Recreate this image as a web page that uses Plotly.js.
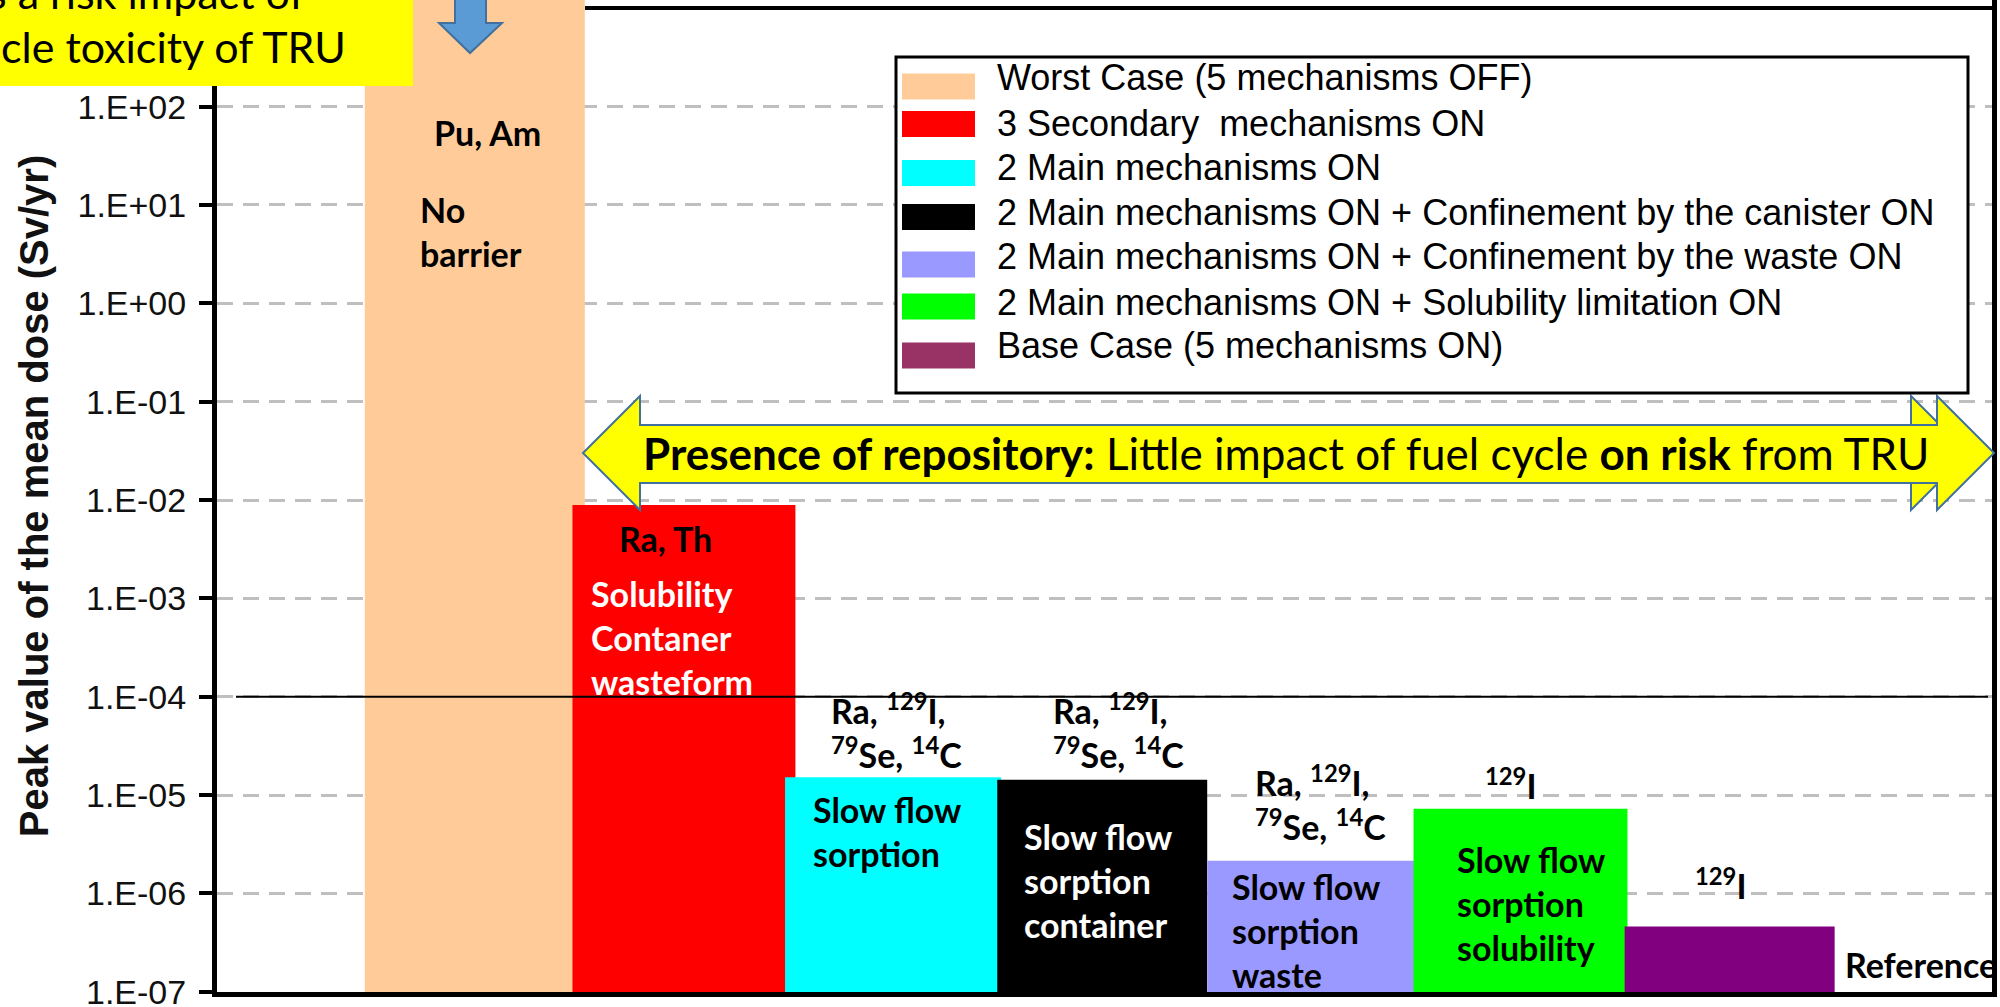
<!DOCTYPE html>
<html>
<head>
<meta charset="utf-8">
<script src="https://cdn.plot.ly/plotly-3.0.1.min.js"></script>
<style>
html, body { margin: 0; padding: 0; background: #ffffff; }
#chart { width: 2000px; height: 1007px; }
</style>
</head>
<body>
<div id="chart"></div>
<script>
// ---------------- data ----------------
const scenarios = [
  "Worst Case (5 mechanisms OFF)",
  "3 Secondary\u00A0 mechanisms ON",
  "2 Main mechanisms ON",
  "2 Main mechanisms ON + Confinement by the canister ON",
  "2 Main mechanisms ON + Confinement by the waste ON",
  "2 Main mechanisms ON + Solubility limitation ON",
  "Base Case (5 mechanisms ON)"
];
const peakDose = [2.0e3, 8.9e-3, 1.52e-5, 1.43e-5, 2.15e-6, 7.24e-6, 4.6e-7];
const tickValues = [1e-7, 1e-6, 1e-5, 1e-4, 1e-3, 1e-2, 1e-1, 1e0, 1e1, 1e2];
const tickLabels = ["1.E-07", "1.E-06", "1.E-05", "1.E-04", "1.E-03", "1.E-02", "1.E-01", "1.E+00", "1.E+01", "1.E+02"];
const doseLimit = 1e-4;
const yAxisTitle = "Peak value of the mean dose (Sv/yr)";
const nuclidesAbove = ["", "", "Ra, <sup>129</sup>I,<br><sup>79</sup>Se, <sup>14</sup>C", "Ra, <sup>129</sup>I,<br><sup>79</sup>Se, <sup>14</sup>C", "Ra, <sup>129</sup>I,<br><sup>79</sup>Se, <sup>14</sup>C", "<sup>129</sup>I", "<sup>129</sup>I"];
const barNotes = ["No<br>barrier", "Solubility<br>Contaner<br>wasteform", "Slow flow<br>sorption", "Slow flow<br>sorption<br>container", "Slow flow<br>sorption<br>waste", "Slow flow<br>sorption<br>solubility", ""];
const topNuclides = ["Pu, Am", "Ra, Th"];
const referenceLabel = "Reference";
const boxLines = ["s a risk impact of", "cle toxicity of TRU"];
const arrowText = "<b>Presence of repository:</b> Little impact of fuel cycle <b>on risk</b> from TRU";

// ---------------- styles ----------------
const barColors = ["#FFCC99", "#FF0000", "#00FFFF", "#000000", "#9999FF", "#00FF00", "#800080"];
const swatchColors = ["#FFCC99", "#FF0000", "#00FFFF", "#000000", "#9999FF", "#00FF00", "#993366"];
const barWidths = [1.052, 1.066, 1.033, 1.004, 0.995, 1.023, 1.004];
const noteColors = ["#000", "#fff", "#000", "#fff", "#000", "#000", "#000"];
// legend layout (pixels)
const legendTextY = [78, 123, 168, 212, 257, 302, 345];
const legendSwatchY = [86.5, 124, 173, 217, 264.5, 306.5, 355.5];

// pixel -> paper helpers (plot area 217..1992 x 0..992)
const PL = 217, PR = 1992, PT = 0, PB = 992;
const px = v => (v - PL) / (PR - PL);
const py = v => (PB - v) / (PB - PT);

const ANN_FONT = "Lato, 'Open Sans', sans-serif";
const AX_FONT = "'Liberation Sans', Arial, sans-serif";

const traces = scenarios.map((name, i) => ({
  type: "bar",
  name: name,
  x: [name],
  y: [peakDose[i]],
  width: [barWidths[i]],
  marker: { color: barColors[i], line: { width: 0 } },
  showlegend: false,
  hoverinfo: "skip"
}));

function ann(text, x, y, opts) {
  return Object.assign({
    text: text, x: px(x), y: py(y), xref: "paper", yref: "paper",
    showarrow: false, xanchor: "left", yanchor: "middle", align: "left",
    font: { family: ANN_FONT, size: 34, color: "#000" }
  }, opts || {});
}

const annotations = [
  // yellow box text (clipped by page edges)
  ann(boxLines[0], -14, -7, { font: { family: ANN_FONT, size: 43, color: "#000" } }),
  ann(boxLines[1], -1, 47, { font: { family: ANN_FONT, size: 43, color: "#000" } }),
  // double arrow text
  ann(arrowText, 1286, 453, { xanchor: "center", align: "center", font: { family: ANN_FONT, size: 44, color: "#000" } }),
  // worst case
  ann("<b>" + topNuclides[0] + "</b>", 487, 132, { xanchor: "center", align: "center" }),
  ann("<b>" + barNotes[0] + "</b>", 418, 231),
  // secondary
  ann("<b>" + topNuclides[1] + "</b>", 665, 538, { xanchor: "center", align: "center" }),
  ann("<b>" + barNotes[1] + "</b>", 589, 638, { font: { family: ANN_FONT, size: 34, color: noteColors[1] } }),
  // 2 main
  ann("<b>" + nuclidesAbove[2] + "</b>", 829, 731),
  ann("<b>" + barNotes[2] + "</b>", 811, 831, { font: { family: ANN_FONT, size: 34, color: noteColors[2] } }),
  // canister
  ann("<b>" + nuclidesAbove[3] + "</b>", 1051, 731),
  ann("<b>" + barNotes[3] + "</b>", 1022, 880, { font: { family: ANN_FONT, size: 34, color: noteColors[3] } }),
  // waste
  ann("<b>" + nuclidesAbove[4] + "</b>", 1253, 803),
  ann("<b>" + barNotes[4] + "</b>", 1230, 930, { font: { family: ANN_FONT, size: 34, color: noteColors[4] } }),
  // solubility
  ann("<b>" + nuclidesAbove[5] + "</b>", 1483, 784),
  ann("<b>" + barNotes[5] + "</b>", 1455, 903, { font: { family: ANN_FONT, size: 34, color: noteColors[5] } }),
  // base case
  ann("<b>" + nuclidesAbove[6] + "</b>", 1693, 884),
  ann("<b>" + referenceLabel + "</b>", 1843, 964)
];

// legend entries (text)
scenarios.forEach((name, i) => {
  annotations.push(ann(name, 995, legendTextY[i], { font: { family: AX_FONT, size: 36, color: "#000" } }));
});

function poly(points) {
  return "M" + points.map(p => px(p[0]) + "," + py(p[1])).join("L") + "Z";
}

const shapes = [
  // top frame line
  { type: "line", xref: "paper", yref: "paper", x0: px(585), x1: px(1994), y0: py(8), y1: py(8),
    line: { color: "#000", width: 4 }, layer: "above" },
  // dose limit line
  { type: "line", xref: "paper", yref: "y", x0: px(236), x1: px(1988), y0: doseLimit, y1: doseLimit,
    line: { color: "#000", width: 2 }, layer: "above" },
  // yellow box
  { type: "rect", xref: "paper", yref: "paper", x0: px(-5), x1: px(413), y0: py(86), y1: py(-5),
    fillcolor: "#FFFF00", line: { width: 0 }, layer: "above" },
  // blue down arrow
  { type: "path", xref: "paper", yref: "paper",
    path: poly([[455, -5], [486, -5], [486, 23], [502, 23], [470, 53], [439, 23], [455, 23]]),
    fillcolor: "#5B9BD5", line: { color: "#41719C", width: 2 }, layer: "above" },
  // back arrow head (right)
  { type: "path", xref: "paper", yref: "paper",
    path: poly([[1911, 396], [1968, 453], [1911, 510]]),
    fillcolor: "#FFFF00", line: { color: "#41719C", width: 2 }, layer: "above" },
  // double arrow
  { type: "path", xref: "paper", yref: "paper",
    path: poly([[583, 453], [640, 396], [640, 425], [1937, 425], [1937, 396], [1994, 453], [1937, 510], [1937, 483], [640, 483], [640, 510]]),
    fillcolor: "#FFFF00", line: { color: "#41719C", width: 2 }, layer: "above" },
  // legend frame
  { type: "rect", xref: "paper", yref: "paper", x0: px(896), x1: px(1968), y0: py(393), y1: py(57),
    fillcolor: "#ffffff", line: { color: "#000", width: 3 }, layer: "above" }
];
// legend swatches
swatchColors.forEach((c, i) => {
  shapes.push({ type: "rect", xref: "paper", yref: "paper",
    x0: px(902), x1: px(975), y0: py(legendSwatchY[i] + 13), y1: py(legendSwatchY[i] - 13),
    fillcolor: c, line: { width: 0 }, layer: "above" });
});

const layout = {
  width: 2000, height: 1007,
  margin: { l: PL, r: 2000 - PR, t: PT, b: 1007 - PB, pad: 0 },
  paper_bgcolor: "#ffffff", plot_bgcolor: "#ffffff",
  barmode: "overlay",
  showlegend: false,
  xaxis: {
    type: "category", categoryorder: "array", categoryarray: scenarios,
    range: [(PL - 474.8) / 209.14, (PR - 474.8) / 209.14],
    showticklabels: false, ticks: "", showgrid: false, zeroline: false,
    showline: true, linecolor: "#000", linewidth: 5, fixedrange: true
  },
  yaxis: {
    type: "log", range: [-7.003, 3.0845],
    tickmode: "array", tickvals: tickValues, ticktext: tickLabels,
    ticks: "outside", ticklen: 13, tickwidth: 4, tickcolor: "#000",
    ticklabelstandoff: 6, ticklabeloverflow: "allow",
    tickfont: { family: AX_FONT, size: 34, color: "#111" },
    showline: true, linecolor: "#000", linewidth: 5, mirror: true,
    showgrid: true, gridcolor: "#BFBFBF", gridwidth: 3, griddash: "16px,10px",
    zeroline: false, fixedrange: true,
    title: { text: "<b>" + yAxisTitle + "</b>", font: { family: AX_FONT, size: 40, color: "#111" }, standoff: 18 }
  },
  shapes: shapes,
  annotations: annotations
};

Plotly.newPlot("chart", traces, layout, { staticPlot: true, displayModeBar: false });
</script>
</body>
</html>
